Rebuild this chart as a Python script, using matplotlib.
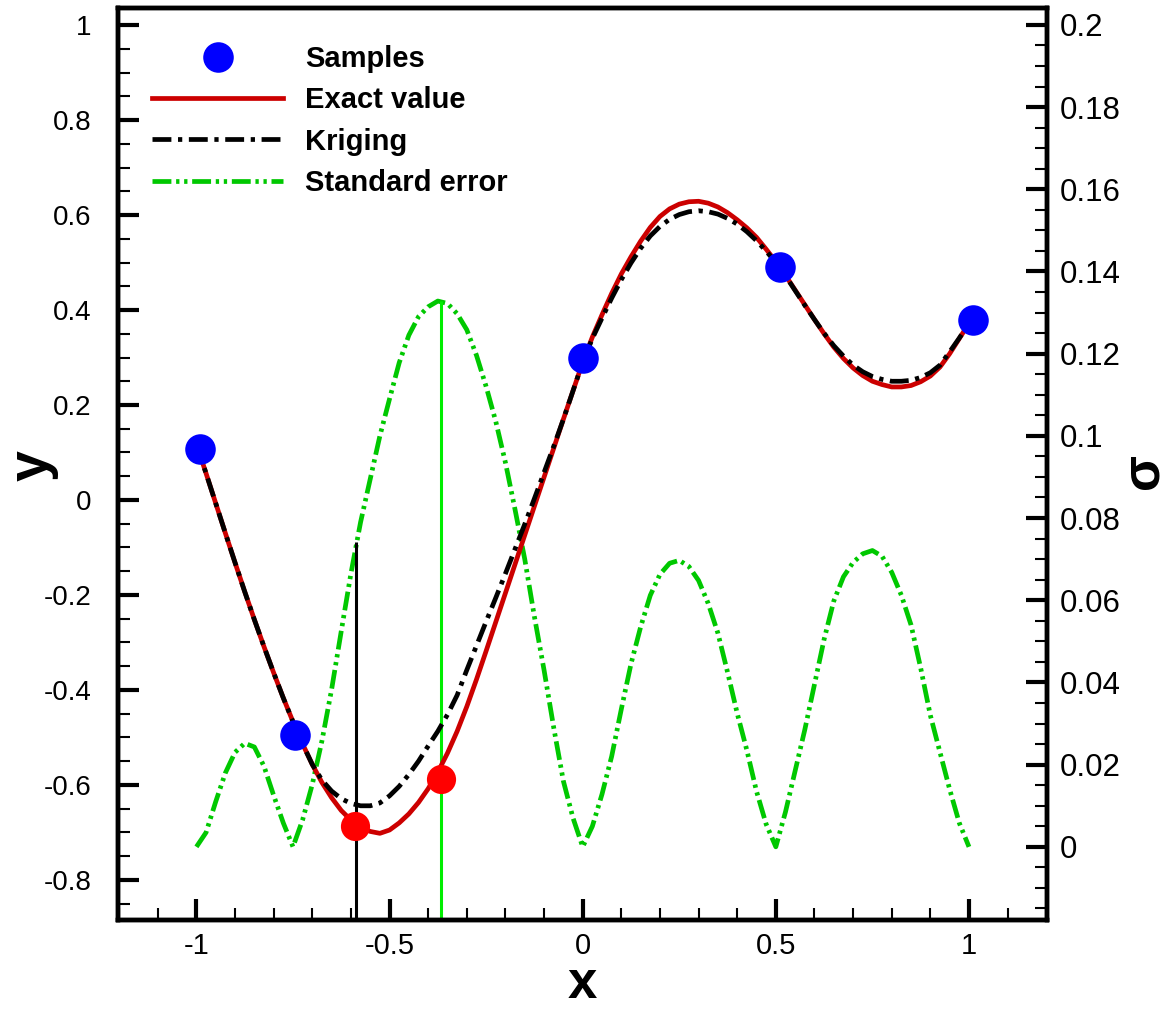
import numpy as np
import matplotlib
matplotlib.use("Agg")
import matplotlib.pyplot as plt
from matplotlib.ticker import FixedLocator, MultipleLocator

plt.rcParams["font.family"] = ["Liberation Sans", "DejaVu Sans"]

# =========================================================
# DATA
# =========================================================
x_grid = [
    -1.000, -0.975, -0.950, -0.925, -0.900, -0.875, -0.850, -0.825, -0.800, -0.775,
    -0.750, -0.725, -0.700, -0.675, -0.650, -0.625, -0.600, -0.575, -0.550, -0.525,
    -0.500, -0.475, -0.450, -0.425, -0.400, -0.375, -0.350, -0.325, -0.300, -0.275,
    -0.250, -0.225, -0.200, -0.175, -0.150, -0.125, -0.100, -0.075, -0.050, -0.025,
    0.000, 0.025, 0.050, 0.075, 0.100, 0.125, 0.150, 0.175, 0.200, 0.225,
    0.250, 0.275, 0.300, 0.325, 0.350, 0.375, 0.400, 0.425, 0.450, 0.475,
    0.500, 0.525, 0.550, 0.575, 0.600, 0.625, 0.650, 0.675, 0.700, 0.725,
    0.750, 0.775, 0.800, 0.825, 0.850, 0.875, 0.900, 0.925, 0.950, 0.975,
    1.000,
]

exact_y = [
    0.118, 0.056, -0.007, -0.070, -0.132, -0.193, -0.252, -0.309, -0.364, -0.417,
    -0.467, -0.514, -0.557, -0.595, -0.627, -0.654, -0.674, -0.689, -0.698, -0.702,
    -0.695, -0.680, -0.661, -0.637, -0.608, -0.573, -0.533, -0.487, -0.435, -0.378,
    -0.318, -0.257, -0.196, -0.135, -0.074, -0.013, 0.048, 0.109, 0.170, 0.230,
    0.290, 0.343, 0.390, 0.435, 0.476, 0.512, 0.545, 0.574, 0.597, 0.613,
    0.623, 0.628, 0.629, 0.625, 0.617, 0.605, 0.590, 0.573, 0.553, 0.528,
    0.502, 0.473, 0.442, 0.411, 0.380, 0.350, 0.322, 0.298, 0.278, 0.262,
    0.250, 0.243, 0.238, 0.238, 0.241, 0.249, 0.261, 0.280, 0.308, 0.340,
    0.372,
]

kriging_y = [
    0.118, 0.056, -0.007, -0.070, -0.132, -0.193, -0.252, -0.309, -0.364, -0.417,
    -0.467, -0.514, -0.557, -0.590, -0.613, -0.629, -0.639, -0.644, -0.644, -0.638,
    -0.623, -0.603, -0.578, -0.550, -0.518, -0.487, -0.452, -0.411, -0.358, -0.307,
    -0.256, -0.206, -0.155, -0.103, -0.051, 0.003, 0.058, 0.113, 0.170, 0.230,
    0.290, 0.340, 0.383, 0.425, 0.464, 0.499, 0.530, 0.556, 0.576, 0.591,
    0.601, 0.607, 0.609, 0.607, 0.602, 0.593, 0.581, 0.565, 0.546, 0.524,
    0.500, 0.472, 0.441, 0.410, 0.380, 0.351, 0.325, 0.303, 0.284, 0.270,
    0.260, 0.254, 0.250, 0.250, 0.252, 0.258, 0.268, 0.284, 0.312, 0.341,
    0.372,
]

std_error = [
    0.0000, 0.0035, 0.0110, 0.0180, 0.0230, 0.0252, 0.0243, 0.0196, 0.0125, 0.0058,
    0.0000, 0.0066, 0.0152, 0.0258, 0.0383, 0.0525, 0.0665, 0.0790, 0.0895, 0.1000,
    0.1090, 0.1178, 0.1245, 0.1290, 0.1314, 0.1328, 0.1322, 0.1297, 0.1258, 0.1196,
    0.1120, 0.1035, 0.0935, 0.0820, 0.0700, 0.0560, 0.0430, 0.0290, 0.0160, 0.0070,
    0.0000, 0.0050, 0.0128, 0.0220, 0.0335, 0.0445, 0.0535, 0.0612, 0.0663, 0.0690,
    0.0697, 0.0682, 0.0648, 0.0592, 0.0520, 0.0425, 0.0325, 0.0235, 0.0135, 0.0055,
    0.0000, 0.0085, 0.0185, 0.0285, 0.0395, 0.0505, 0.0598, 0.0657, 0.0692, 0.0713,
    0.0721, 0.0707, 0.0668, 0.0612, 0.0540, 0.0435, 0.0320, 0.0230, 0.0140, 0.0058,
    0.0000,
]

sample_x = [-0.99, -0.745, 0.0, 0.51, 1.01]
sample_y = [0.108, -0.495, 0.300, 0.490, 0.380]

infill_x = [-0.590, -0.368]
infill_y = [-0.686, -0.587]

# vertical markers on the sigma axis: (x, top value)
vline_ei_x, vline_ei_top = -0.586, 0.0741
vline_se_x, vline_se_top = -0.368, 0.1328

x_ticks = [-1, -0.5, 0, 0.5, 1]
x_tick_labels = ["-1", "-0.5", "0", "0.5", "1"]
y_ticks = [-0.8, -0.6, -0.4, -0.2, 0, 0.2, 0.4, 0.6, 0.8, 1.0]
y_tick_labels = ["-0.8", "-0.6", "-0.4", "-0.2", "0", "0.2", "0.4", "0.6", "0.8", "1"]
s_ticks = [0, 0.02, 0.04, 0.06, 0.08, 0.10, 0.12, 0.14, 0.16, 0.18, 0.20]
s_tick_labels = ["0", "0.02", "0.04", "0.06", "0.08", "0.1", "0.12", "0.14", "0.16", "0.18", "0.2"]

X_LIM = (-1.203, 1.202)
Y_LIM = (-0.8845, 1.036)
S_LIM = (-0.0178, 0.2041)

# =========================================================
# PLOT
# =========================================================
W, H = 1171, 1010
fig = plt.figure(figsize=(W / 100, H / 100), dpi=100)
ax = fig.add_axes([118 / W, 1 - 920 / H, (1047 - 118) / W, (920 - 8) / H])
ax2 = ax.twinx()
ax.set_zorder(ax2.get_zorder() + 1)
ax.patch.set_visible(False)

RED_LINE = "#cc0000"
GREEN = "#00c800"
LW = 3.4

# sigma axis content
h_se, = ax2.plot(x_grid, std_error, color=GREEN, lw=LW,
                 dashes=(4.0, 1.0, 0.7, 1.0, 0.7, 1.0), label="Standard error")
ax2.vlines(vline_ei_x, S_LIM[0], vline_ei_top, color="black", lw=2.2)
ax2.vlines(vline_se_x, S_LIM[0], vline_se_top, color="#00ee00", lw=2.2)

# y axis content
h_ex, = ax.plot(x_grid, exact_y, color=RED_LINE, lw=LW, label="Exact value")
h_kr, = ax.plot(x_grid, kriging_y, color="black", lw=LW,
                dashes=(4.0, 1.4, 0.9, 1.4), label="Kriging")
h_sa, = ax.plot(sample_x, sample_y, "o", color="#0000ff", ms=22, mew=0,
                label="Samples")
ax.plot(infill_x, infill_y, "o", color="#ff0000", ms=21, mew=0)

ax.set_xlim(*X_LIM)
ax.set_ylim(*Y_LIM)
ax2.set_ylim(*S_LIM)

ax.xaxis.set_major_locator(FixedLocator(x_ticks))
ax.set_xticklabels(x_tick_labels)
ax.xaxis.set_minor_locator(MultipleLocator(0.1))
ax.yaxis.set_major_locator(FixedLocator(y_ticks))
ax.set_yticklabels(y_tick_labels)
ax.yaxis.set_minor_locator(MultipleLocator(0.05))
ax2.yaxis.set_major_locator(FixedLocator(s_ticks))
ax2.set_yticklabels(s_tick_labels)
ax2.yaxis.set_minor_locator(MultipleLocator(0.005))

ax.tick_params(which="both", direction="in", top=False, right=False)
ax.tick_params(which="major", length=15, width=3)
ax.tick_params(which="minor", length=8.5, width=1.5)
ax.tick_params(axis="y", which="major", pad=19, labelsize=20)
ax.tick_params(axis="x", which="major", pad=9, labelsize=21)
ax2.tick_params(which="both", direction="in")
ax2.tick_params(which="major", length=15, width=3, pad=9, labelsize=22.5)
ax2.tick_params(which="minor", length=8.5, width=1.5)

for a in (ax, ax2):
    for sp in a.spines.values():
        sp.set_linewidth(3.2)

fig.text(582.5 / W, 1 - 998 / H, "x", ha="center", va="baseline",
         fontsize=38, fontweight="bold")
fig.text(47 / W, 1 - 466 / H, "y", ha="center", va="baseline",
         fontsize=40, fontweight="bold", rotation=90, rotation_mode="anchor")
fig.text(1158 / W, 1 - 471 / H, "σ", ha="center", va="baseline",
         fontsize=38, fontweight="bold", rotation=90, rotation_mode="anchor")

leg = ax.legend(handles=[h_sa, h_ex, h_kr, h_se], loc="upper left",
                bbox_to_anchor=(0.0366, 0.9596), frameon=False, numpoints=1,
                borderpad=0, borderaxespad=0, handlelength=4.5,
                handletextpad=0.75, labelspacing=0.46,
                prop={"size": 21, "weight": "bold"})

fig.savefig("out.png", dpi=100)
